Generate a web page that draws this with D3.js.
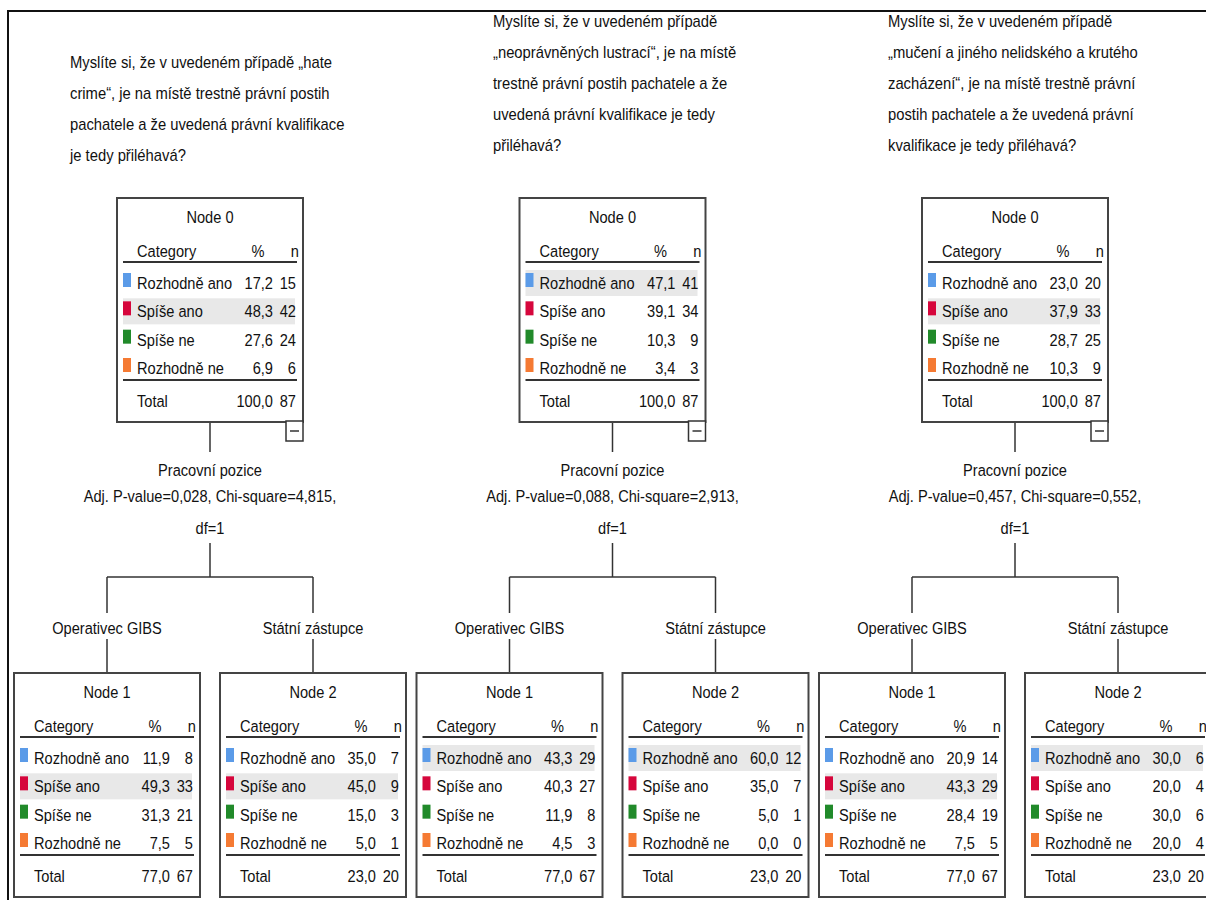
<html>
<head>
<script src="https://cdnjs.cloudflare.com/ajax/libs/d3/7.8.5/d3.min.js"></script>
  <meta charset="utf-8">
  <title>Rozhodovací stromy</title>
  <style>
    body { margin: 0; background: #fff; }
    text { font-family: "Liberation Sans", Arial, sans-serif; fill: #111; }
  </style>
</head>
<body>
<script type="text/javascript">

// data
var categories = ["Rozhodně ano", "Spíše ano", "Spíše ne", "Rozhodně ne"];
var colors = ["#5b9be8", "#d6063c", "#218a2a", "#f57a33"];

var questions = [
  ["Myslíte si, že v uvedeném případě „hate", "crime“, je na místě trestně právní postih", "pachatele a že uvedená právní kvalifikace", "je tedy přiléhavá?"],
  ["Myslíte si, že v uvedeném případě", "„neoprávněných lustrací“, je na místě", "trestně právní postih pachatele a že", "uvedená právní kvalifikace je tedy", "přiléhavá?"],
  ["Myslíte si, že v uvedeném případě", "„mučení a jiného nelidského a krutého", "zacházení“, je na místě trestně právní", "postih pachatele a že uvedená právní", "kvalifikace je tedy přiléhavá?"]
];

var splitVariable = "Pracovní pozice";
var adjP = ["0,028", "0,088", "0,457"];
var chiSquare = ["4,815", "2,913", "0,552"];
var df = [1, 1, 1];
var childLabels = ["Operativec GIBS", "Státní zástupce"];

var node0Pct = [[17.2, 48.3, 27.6, 6.9], [47.1, 39.1, 10.3, 3.4], [23.0, 37.9, 28.7, 10.3]];
var node0N   = [[15, 42, 24, 6], [41, 34, 9, 3], [20, 33, 25, 9]];
var node1Pct = [[11.9, 49.3, 31.3, 7.5], [43.3, 40.3, 11.9, 4.5], [20.9, 43.3, 28.4, 7.5]];
var node1N   = [[8, 33, 21, 5], [29, 27, 8, 3], [14, 29, 19, 5]];
var node2Pct = [[35.0, 45.0, 15.0, 5.0], [60.0, 35.0, 5.0, 0.0], [30.0, 20.0, 30.0, 20.0]];
var node2N   = [[7, 9, 3, 1], [12, 7, 1, 0], [6, 4, 6, 4]];
var totalPct = [100.0, 77.0, 23.0];
var totalN   = [87, 67, 20];

// layout
var w = 1206, h = 900;
var boxW = 186, boxH = 224;
var node0Top = 198, childTop = 673;
var childShift = 103;
var questionX = [70, 493, 888];
var questionY = [62, 21, 21];
var lineGap = 31;
var narrow = 0.86;   // fake Arial Narrow
var narrowQ = 0.87;

var fmt = function(v) { return d3.format(".1f")(v).replace(".", ","); };

var panelX = d3.scalePoint().domain([0, 1, 2]).range([210, 1015]);
var rowY = d3.scaleLinear().domain([0, 3]).range([85, 170]);

var svg = d3.select("body").append("svg")
  .attr("width", w)
  .attr("height", h);

// frame
svg.append("path")
  .attr("d", "M8," + h + "V11H" + w)
  .attr("fill", "none")
  .attr("stroke", "#111")
  .attr("stroke-width", 2);

function pos(x, y, k) {
  return "translate(" + x + "," + y + ") scale(" + (k || narrow) + ",1)";
}

function txt(g, x, y, s, anchor) {
  return g.append("text")
    .attr("transform", pos(x, y))
    .attr("font-size", "17px")
    .attr("text-anchor", anchor || "start")
    .text(s);
}

function line(g, x1, y1, x2, y2, sw) {
  g.append("line")
    .attr("x1", x1).attr("y1", y1).attr("x2", x2).attr("y2", y2)
    .attr("stroke", "#333")
    .attr("stroke-width", sw || 1.5);
}

function drawNode(g, cx, top, id, pct, n, tPct, tN) {
  var l = cx - boxW / 2;
  var node = g.append("g").attr("transform", "translate(" + l + "," + top + ")");
  var best = d3.maxIndex(pct);

  node.append("rect")
    .attr("width", boxW).attr("height", boxH)
    .attr("fill", "#fff")
    .attr("stroke", "#444")
    .attr("stroke-width", 2);

  node.append("rect")
    .attr("x", 6).attr("y", rowY(best) - 13)
    .attr("width", boxW - 14).attr("height", 26)
    .attr("fill", "#e8e8e8");

  txt(node, boxW / 2, 25, "Node " + id, "middle");
  txt(node, 20, 59, "Category");
  txt(node, 141, 59, "%", "middle");
  txt(node, boxW - 4, 59, "n", "end");

  line(node, 6, 64, boxW - 6, 64, 2);
  line(node, 6, 182, boxW - 6, 182, 2);

  var rows = node.selectAll("g.row")
    .data(categories)
    .enter()
    .append("g")
    .attr("class", "row")
    .attr("transform", function(d, i) { return "translate(0," + rowY(i) + ")"; });

  rows.append("rect")
    .attr("x", 6).attr("y", -10)
    .attr("width", 8).attr("height", 14)
    .attr("fill", function(d, i) { return colors[i]; });

  rows.append("text")
    .attr("transform", pos(20, 6))
    .attr("font-size", "17px")
    .text(function(d) { return d; });

  rows.append("text")
    .attr("transform", pos(156, 6))
    .attr("font-size", "17px")
    .attr("text-anchor", "end")
    .text(function(d, i) { return fmt(pct[i]); });

  rows.append("text")
    .attr("transform", pos(179, 6))
    .attr("font-size", "17px")
    .attr("text-anchor", "end")
    .text(function(d, i) { return n[i]; });

  txt(node, 20, 209, "Total");
  txt(node, 156, 209, fmt(tPct), "end");
  txt(node, 179, 209, tN, "end");
}

[0, 1, 2].forEach(function(p) {
  var g = svg.append("g");
  var cx = panelX(p);

  // question
  g.append("g").selectAll("text")
    .data(questions[p])
    .enter()
    .append("text")
    .attr("transform", function(d, i) { return pos(questionX[p], questionY[p] + 6 + i * lineGap, narrowQ); })
    .attr("font-size", "17px")
    .text(function(d) { return d; });

  // connectors
  line(g, cx, node0Top + boxH, cx, 452);
  line(g, cx, 543, cx, 577);
  line(g, cx - childShift, 577, cx + childShift, 577);
  line(g, cx - childShift, 577, cx - childShift, 613);
  line(g, cx + childShift, 577, cx + childShift, 613);
  line(g, cx - childShift, 639, cx - childShift, childTop);
  line(g, cx + childShift, 639, cx + childShift, childTop);

  // split info
  var split = [splitVariable, "Adj. P-value=" + adjP[p] + ", Chi-square=" + chiSquare[p] + ",", "df=" + df[p]];
  var splitY = [470, 496, 528];
  g.append("g").selectAll("text")
    .data(split)
    .enter()
    .append("text")
    .attr("transform", function(d, i) { return pos(cx, splitY[i] + 6); })
    .attr("text-anchor", "middle")
    .attr("font-size", "17px")
    .text(function(d) { return d; });

  g.append("g").selectAll("text")
    .data(childLabels)
    .enter()
    .append("text")
    .attr("transform", function(d, i) { return pos(cx + (i === 0 ? -childShift : childShift), 634); })
    .attr("text-anchor", "middle")
    .attr("font-size", "17px")
    .text(function(d) { return d; });

  drawNode(g, cx, node0Top, 0, node0Pct[p], node0N[p], totalPct[0], totalN[0]);
  drawNode(g, cx - childShift, childTop, 1, node1Pct[p], node1N[p], totalPct[1], totalN[1]);
  drawNode(g, cx + childShift, childTop, 2, node2Pct[p], node2N[p], totalPct[2], totalN[2]);

  // collapse marker
  var mx = cx + boxW / 2 - 17, my = node0Top + boxH - 1;
  g.append("rect")
    .attr("x", mx).attr("y", my)
    .attr("width", 17).attr("height", 20)
    .attr("fill", "#fff")
    .attr("stroke", "#333")
    .attr("stroke-width", 1.5);
  line(g, mx + 4, my + 10, mx + 13, my + 10, 1.5);
});

</script>
</body>
</html>
